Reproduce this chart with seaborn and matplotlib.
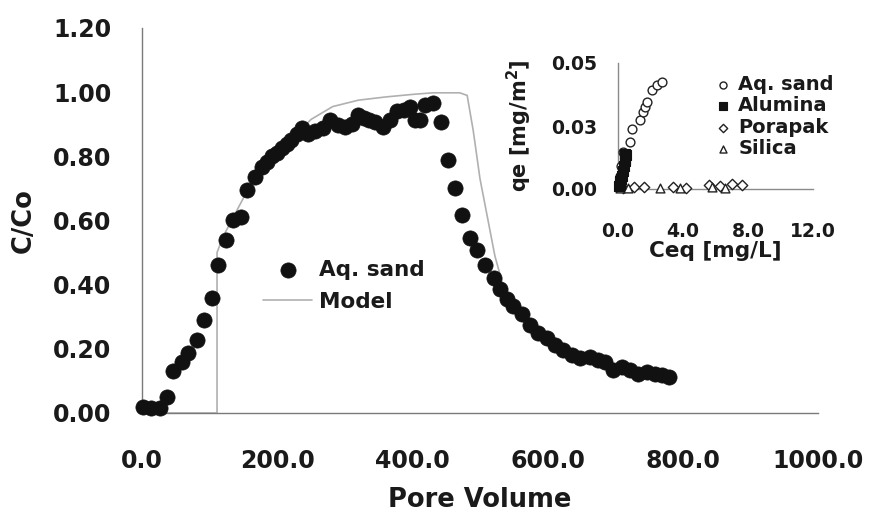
import matplotlib
matplotlib.use("Agg")
import matplotlib.pyplot as plt
import matplotlib.ticker as mticker
import numpy as np
import pandas as pd
import seaborn as sns

# ---------------- data ----------------
pore_volume = [2, 14, 27, 37, 46, 59, 68, 81, 91, 103, 112, 124, 135, 147, 155,
               167, 177, 185, 192, 199, 207, 214, 221, 229, 236, 245, 256, 268,
               278, 290, 300, 310, 320, 328, 336, 345, 357, 367, 377, 387, 396,
               404, 411, 419, 431, 442, 453, 463, 473, 485, 495, 507, 520, 530,
               540, 549, 562, 574, 586, 599, 611, 623, 636, 648, 663, 675, 685,
               697, 710, 722, 734, 747, 759, 769, 779]
c_co = [0.02, 0.016, 0.016, 0.05, 0.13, 0.16, 0.186, 0.227, 0.29, 0.36, 0.46,
        0.54, 0.60, 0.61, 0.695, 0.736, 0.767, 0.783, 0.80, 0.81, 0.825, 0.84,
        0.85, 0.871, 0.887, 0.871, 0.878, 0.887, 0.913, 0.897, 0.89, 0.90,
        0.928, 0.918, 0.913, 0.907, 0.89, 0.913, 0.94, 0.944, 0.954, 0.913,
        0.913, 0.96, 0.965, 0.907, 0.79, 0.70, 0.617, 0.544, 0.508, 0.46, 0.42,
        0.388, 0.355, 0.335, 0.31, 0.274, 0.248, 0.233, 0.212, 0.196, 0.18,
        0.17, 0.175, 0.165, 0.16, 0.134, 0.144, 0.134, 0.123, 0.129, 0.123,
        0.118, 0.113]

model_pv = [0, 111, 111, 120, 135, 160, 190, 220, 250, 282, 320, 360, 400, 430,
            470, 481, 490, 500, 511, 522, 535, 550, 575, 600, 640, 700, 780]
model_c = [0, 0, 0.50, 0.55, 0.61, 0.71, 0.79, 0.85, 0.915, 0.955, 0.975, 0.985,
           0.993, 0.998, 0.998, 0.99, 0.88, 0.73, 0.61, 0.49, 0.39, 0.33, 0.27,
           0.225, 0.18, 0.135, 0.11]

# inset isotherms
sand_ceq = [0.05, 0.12, 0.20, 0.33, 0.74, 0.84, 1.35, 1.52, 1.66, 1.76, 2.07, 2.38, 2.69]
sand_qe = [0.002, 0.005, 0.009, 0.0148, 0.0188, 0.0237, 0.0274, 0.0307, 0.0327,
           0.0347, 0.0393, 0.0413, 0.0426]
alumina_ceq = [0.05, 0.10, 0.15, 0.20, 0.25, 0.30, 0.35, 0.40, 0.45, 0.50, 0.43]
alumina_qe = [0.001, 0.002, 0.003, 0.004, 0.005, 0.007, 0.009, 0.011, 0.012, 0.0135, 0.014]
porapak_ceq = [0.3, 1.0, 1.6, 3.4, 4.2, 5.6, 6.3, 7.0, 7.6]
porapak_qe = [0.0005, 0.0007, 0.0006, 0.0008, 0.0004, 0.0015, 0.0012, 0.0018, 0.0016]
silica_ceq = [0.1, 0.6, 2.6, 3.8, 5.8, 6.6]
silica_qe = [0.0002, 0.0003, 0.0002, 0.0004, 0.0006, 0.0005]

main_xticks = [0, 200, 400, 600, 800, 1000]
main_yticks = [0.0, 0.2, 0.4, 0.6, 0.8, 1.0, 1.2]
inset_xticks = [0, 4, 8, 12]
inset_yticks = [0.0, 0.025, 0.05]

# ---------------- style ----------------
sns.set_theme(style="white")
plt.rcParams["font.family"] = ["DejaVu Sans"]
plt.rcParams["font.weight"] = "bold"

W, H = 869, 517
fig = plt.figure(figsize=(W / 100, H / 100), dpi=100)

def px_box(l, t, r, b):
    return [l / W, 1 - b / H, (r - l) / W, (b - t) / H]

spine_col = "#7a7a7a"
text_col = "#1a1a1a"

ax = fig.add_axes(px_box(142, 28, 818, 413))
sns.lineplot(x=model_pv, y=model_c, ax=ax, sort=False, estimator=None,
             color="#b0b0b0", linewidth=1.2, label="Model", zorder=2)
sns.scatterplot(x=pore_volume, y=c_co, ax=ax, color="#111111", s=120,
                edgecolor="#111111", linewidth=0.5, label="Aq. sand", zorder=3,
                clip_on=False)

ax.set_xlim(0, 1000)
ax.set_ylim(0, 1.2)
ax.set_xticks(main_xticks)
ax.set_yticks(main_yticks)
ax.xaxis.set_major_formatter(mticker.FormatStrFormatter("%.1f"))
ax.yaxis.set_major_formatter(mticker.FormatStrFormatter("%.2f"))
for s in ["top", "right"]:
    ax.spines[s].set_visible(False)
for s in ["left", "bottom"]:
    ax.spines[s].set_color(spine_col)
    ax.spines[s].set_linewidth(1.0)
ax.tick_params(axis="both", direction="out", length=8, width=1, color=spine_col,
               labelsize=17, labelcolor=text_col)
ax.tick_params(axis="x", pad=18)
ax.tick_params(axis="y", pad=14)
ax.set_xlabel("Pore Volume", fontsize=18.5, fontweight="bold", color=text_col, labelpad=10)
ax.set_ylabel("C/Co", fontsize=18.5, fontweight="bold", color=text_col, labelpad=12)
ax.grid(False)

handles, labels = ax.get_legend_handles_labels()
order = [labels.index("Aq. sand"), labels.index("Model")]
ax.legend([handles[i] for i in order], [labels[i] for i in order],
          loc="center left", bbox_to_anchor=(263 / W, 1 - 286 / H),
          bbox_transform=fig.transFigure, frameon=False, fontsize=15.5,
          handlelength=2.28, handletextpad=0.33, labelspacing=0.55,
          borderpad=0, borderaxespad=0, labelcolor=text_col)

# ---------------- inset ----------------
ia = fig.add_axes(px_box(618, 63, 813, 189))
ia.patch.set_alpha(0)
sns.scatterplot(x=sand_ceq, y=sand_qe, ax=ia, marker="o", s=40,
                facecolor="white", edgecolor="#222222", linewidth=1.0,
                label="Aq. sand", clip_on=False, zorder=3)
sns.scatterplot(x=alumina_ceq, y=alumina_qe, ax=ia, marker="s", s=42,
                color="#111111", edgecolor="#111111", linewidth=0.8,
                label="Alumina", clip_on=False, zorder=4)
sns.scatterplot(x=porapak_ceq, y=porapak_qe, ax=ia, marker="D", s=28,
                facecolor="white", edgecolor="#222222", linewidth=1.0,
                label="Porapak", clip_on=False, zorder=3)
sns.scatterplot(x=silica_ceq, y=silica_qe, ax=ia, marker="^", s=40,
                facecolor="white", edgecolor="#222222", linewidth=1.0,
                label="Silica", clip_on=False, zorder=3)
ia.set_xlim(0, 12)
ia.set_ylim(0, 0.05)
ia.set_xticks(inset_xticks)
ia.set_yticks(inset_yticks)
ia.xaxis.set_major_formatter(mticker.FormatStrFormatter("%.1f"))
ia.yaxis.set_major_formatter(mticker.FormatStrFormatter("%.2f"))
for s in ["top", "right"]:
    ia.spines[s].set_visible(False)
for s in ["left", "bottom"]:
    ia.spines[s].set_color("#8a8a8a")
    ia.spines[s].set_linewidth(1.0)
ia.tick_params(axis="both", length=5, width=1, color="#8a8a8a",
               labelsize=13.5, labelcolor=text_col)
ia.tick_params(axis="x", direction="inout", pad=21)
ia.tick_params(axis="y", direction="out", pad=10)
ia.set_xlabel("Ceq [mg/L]", fontsize=15.5, fontweight="bold", color=text_col, labelpad=0)
ia.set_ylabel("qe [mg/m$^\\mathbf{2}$]", fontsize=15, fontweight="bold", color=text_col, labelpad=12)
ia.grid(False)
ia.legend(loc="center left", bbox_to_anchor=(715 / W, 1 - 116.5 / H),
          bbox_transform=fig.transFigure, frameon=False, fontsize=14,
          handlelength=0.8, handletextpad=0.4, labelspacing=0.12,
          borderpad=0, borderaxespad=0, markerscale=0.8, labelcolor=text_col)

fig.savefig("out.png", dpi=100)
